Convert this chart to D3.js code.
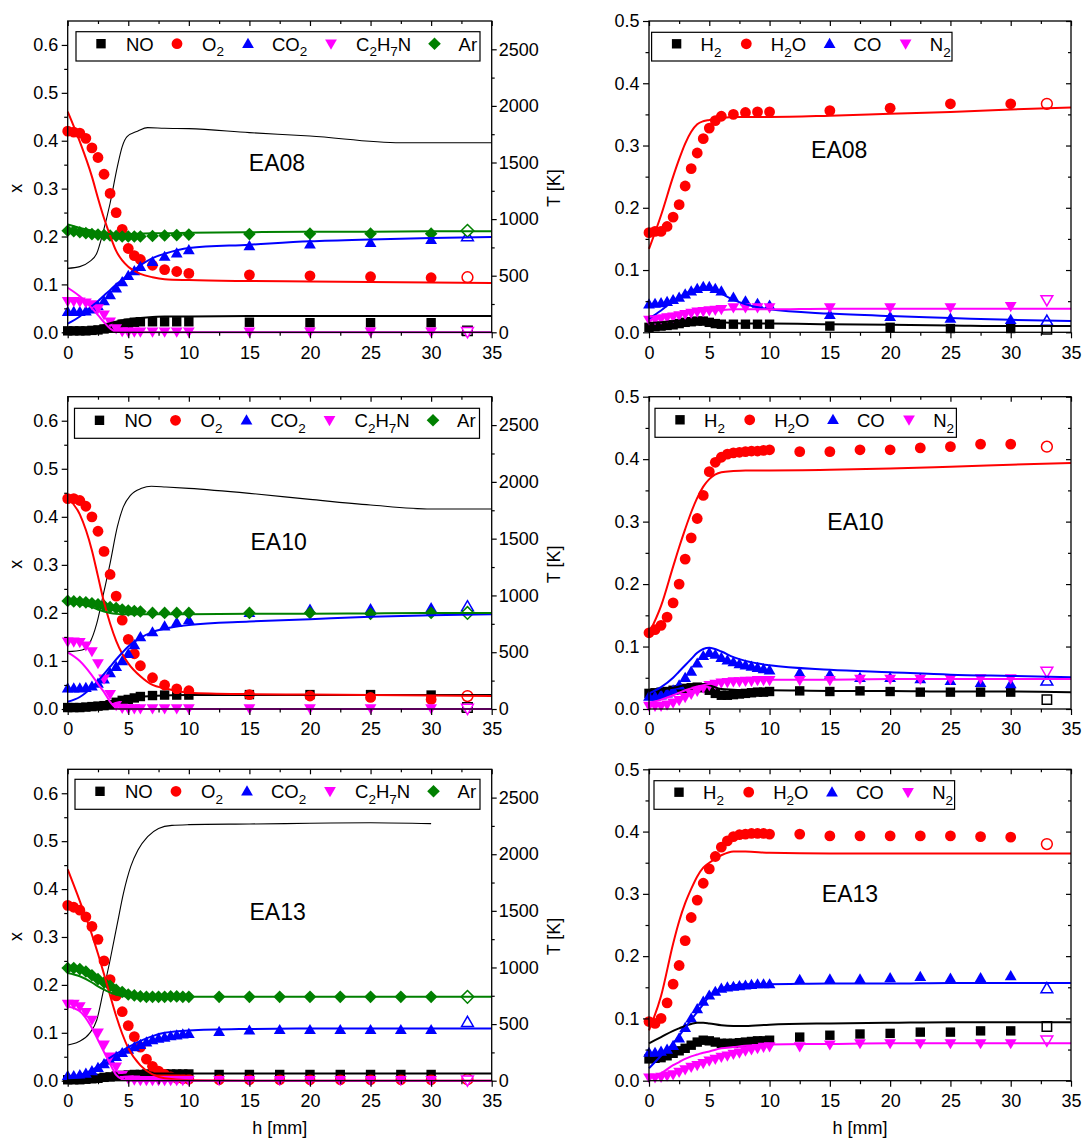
<!DOCTYPE html>
<html><head><meta charset="utf-8">
<script src="https://cdn.jsdelivr.net/npm/d3@7"></script>
<style>body{margin:0;background:#fff}</style>
</head><body><svg id="c" width="1083" height="1138"></svg>
<script>
// ---------------- DATA ----------------
const X_MAJOR = [0,5,10,15,20,25,30,35];
const X_MINOR = [2.5,7.5,12.5,17.5,22.5,27.5,32.5];
const YL_MAJOR = [0,0.1,0.2,0.3,0.4,0.5,0.6];
const YL_MINOR = [0.05,0.15,0.25,0.35,0.45,0.55];
const YR_MAJOR = [0,0.1,0.2,0.3,0.4,0.5];
const YR_MINOR = [0.05,0.15,0.25,0.35,0.45];
const T_MAJOR = [0,500,1000,1500,2000,2500];
const T_MINOR = [250,750,1250,1750,2250];

const G1 = [0,0.5,1,1.5,2,2.5,3,3.5,4,4.5,5,5.5,6,7,8,9,10,15,20,25,30];
const G2 = [0,0.5,1,1.5,2,2.5,3,3.5,4,4.5,5,5.5,6,6.5,7,7.5,8,8.5,9,9.5,10,12.5,15,17.5,20,22.5,25,27.5,30];
const HM = [0,1,2,2.5,3,3.5,4,4.5,5,6,7,8,10,15,20,25,30,35];
const H_OPEN = 33;

// EA08 left
const EA08_NO = [0.003,0.003,0.003,0.003,0.004,0.005,0.007,0.01,0.014,0.017,0.019,0.021,0.022,0.022,0.022,0.022,0.022,0.021,0.02,0.02,0.02];
const EA08_O2 = [0.42,0.418,0.416,0.405,0.385,0.365,0.33,0.29,0.25,0.215,0.175,0.16,0.152,0.14,0.131,0.127,0.123,0.12,0.118,0.116,0.114];
const EA08_CO2 = [0.043,0.043,0.043,0.044,0.048,0.055,0.065,0.078,0.092,0.105,0.118,0.128,0.137,0.147,0.158,0.165,0.172,0.18,0.184,0.187,0.193];
const EA08_C2H7N = [0.065,0.065,0.064,0.062,0.058,0.05,0.037,0.022,0.008,0.002,0.001,0.001,0.001,0.001,0.001,0.001,0.001,0.001,0.001,0.001,0.001];
const EA08_Ar = [0.212,0.211,0.209,0.207,0.205,0.204,0.203,0.202,0.201,0.2,0.2,0.2,0.2,0.201,0.202,0.203,0.204,0.205,0.206,0.206,0.206];
const EA08_OPEN_L = [0.003,0.115,0.2,0.001,0.212];
const EA08_NO_m = [0.006,0.007,0.009,0.011,0.015,0.019,0.022,0.025,0.027,0.03,0.032,0.033,0.033,0.034,0.034,0.034,0.034,0.034];
const EA08_O2_m = [0.461,0.398,0.325,0.28,0.238,0.202,0.17,0.15,0.137,0.122,0.115,0.111,0.109,0.107,0.106,0.105,0.104,0.103];
const EA08_CO2_m = [0.018,0.033,0.055,0.065,0.077,0.088,0.1,0.11,0.12,0.14,0.155,0.164,0.176,0.183,0.19,0.194,0.197,0.199];
const EA08_C2H7N_m = [0.093,0.075,0.05,0.036,0.021,0.008,0.001,0,0,0,0,0,0,0,0,0,0,0];
const EA08_Ar_m = [0.225,0.218,0.212,0.209,0.206,0.205,0.205,0.205,0.205,0.206,0.207,0.207,0.208,0.209,0.21,0.21,0.211,0.211];
const EA08_hT = [0,1,1.8,2.4,2.9,3.5,4.1,4.5,4.9,5.8,6.6,8,10,15,20,27.5,35];
const EA08_T = [565,580,624,698,875,1140,1463,1640,1728,1779,1808,1802,1799,1764,1734,1675,1675];
// EA08 right
const EA08_H2 = [0.008,0.009,0.01,0.011,0.012,0.014,0.016,0.017,0.018,0.018,0.016,0.014,0.013,0.013,0.013,0.013,0.013,0.01,0.008,0.006,0.006];
const EA08_H2O = [0.16,0.162,0.162,0.17,0.185,0.205,0.235,0.263,0.288,0.311,0.328,0.34,0.347,0.35,0.353,0.354,0.354,0.356,0.36,0.367,0.367];
const EA08_CO = [0.045,0.046,0.047,0.049,0.052,0.056,0.061,0.066,0.07,0.073,0.073,0.07,0.066,0.056,0.05,0.046,0.043,0.028,0.025,0.022,0.02];
const EA08_N2 = [0.02,0.021,0.022,0.024,0.025,0.027,0.029,0.031,0.033,0.034,0.035,0.036,0.037,0.04,0.04,0.04,0.04,0.04,0.04,0.04,0.042];
const EA08_OPEN_R = [0.005,0.367,0.018,0.052];
const EA08_H2_m = [0.015,0.016,0.018,0.019,0.019,0.02,0.02,0.019,0.018,0.016,0.015,0.014,0.014,0.013,0.012,0.011,0.01,0.01];
const EA08_H2O_m = [0.134,0.188,0.25,0.278,0.303,0.322,0.334,0.339,0.341,0.344,0.346,0.346,0.346,0.348,0.351,0.354,0.358,0.361];
const EA08_CO_m = [0.022,0.035,0.05,0.056,0.062,0.067,0.07,0.072,0.07,0.062,0.052,0.045,0.037,0.03,0.026,0.023,0.02,0.018];
const EA08_N2_m = [0.025,0.027,0.03,0.031,0.032,0.033,0.034,0.035,0.035,0.036,0.037,0.037,0.037,0.038,0.038,0.038,0.038,0.038];

// EA10 left
const EA10_NO = [0.003,0.003,0.003,0.004,0.005,0.006,0.007,0.009,0.014,0.018,0.02,0.023,0.026,0.028,0.029,0.029,0.029,0.03,0.03,0.03,0.029];
const EA10_O2 = [0.438,0.438,0.434,0.422,0.4,0.37,0.328,0.28,0.235,0.185,0.145,0.115,0.09,0.065,0.05,0.042,0.038,0.03,0.027,0.024,0.02];
const EA10_CO2 = [0.043,0.043,0.043,0.044,0.047,0.053,0.062,0.075,0.088,0.1,0.115,0.133,0.15,0.16,0.172,0.18,0.185,0.2,0.207,0.208,0.21];
const EA10_C2H7N = [0.14,0.14,0.139,0.132,0.12,0.095,0.063,0.031,0.008,0.002,0.001,0.001,0.001,0.001,0.001,0.001,0.001,0.001,0.001,0.001,0.001];
const EA10_Ar = [0.225,0.224,0.223,0.222,0.22,0.218,0.215,0.212,0.21,0.207,0.205,0.204,0.203,0.2,0.2,0.2,0.2,0.2,0.2,0.198,0.2];
const EA10_OPEN_L = [0.003,0.027,0.213,0.001,0.2];
const EA10_NO_m = [0.003,0.004,0.005,0.007,0.01,0.013,0.017,0.02,0.022,0.026,0.027,0.028,0.029,0.029,0.029,0.029,0.029,0.029];
const EA10_O2_m = [0.44,0.405,0.33,0.276,0.222,0.178,0.142,0.115,0.095,0.068,0.05,0.043,0.034,0.031,0.03,0.029,0.028,0.027];
const EA10_CO2_m = [0.015,0.025,0.045,0.058,0.073,0.088,0.103,0.117,0.13,0.148,0.16,0.167,0.175,0.182,0.187,0.192,0.195,0.197];
const EA10_C2H7N_m = [0.118,0.1,0.07,0.052,0.035,0.015,0.003,0,0,0,0,0,0,0,0,0,0,0];
const EA10_Ar_m = [0.22,0.218,0.212,0.207,0.203,0.2,0.198,0.197,0.197,0.197,0.197,0.197,0.197,0.198,0.198,0.199,0.2,0.2];
const EA10_hT = [0,1.2,1.8,2.4,2.9,3.5,4.1,4.6,5.2,6.1,6.9,8.1,10,15,20,25,30,35];
const EA10_T = [505,520,578,754,989,1283,1606,1782,1884,1943,1961,1955,1943,1899,1846,1796,1761,1761];
// EA10 right
const EA10_H2 = [0.025,0.026,0.027,0.028,0.03,0.031,0.033,0.034,0.035,0.034,0.03,0.025,0.022,0.022,0.023,0.024,0.025,0.026,0.027,0.027,0.028,0.029,0.028,0.029,0.028,0.027,0.027,0.027,0.027];
const EA10_H2O = [0.122,0.127,0.134,0.147,0.17,0.2,0.24,0.274,0.305,0.342,0.38,0.395,0.403,0.408,0.41,0.411,0.412,0.413,0.413,0.414,0.415,0.412,0.412,0.415,0.415,0.418,0.42,0.424,0.424];
const EA10_CO = [0.02,0.02,0.022,0.025,0.03,0.038,0.05,0.06,0.073,0.085,0.09,0.087,0.082,0.078,0.075,0.072,0.07,0.068,0.066,0.064,0.062,0.058,0.055,0.05,0.05,0.048,0.045,0.042,0.04];
const EA10_N2 = [0.005,0.005,0.005,0.007,0.01,0.014,0.019,0.024,0.029,0.034,0.038,0.04,0.042,0.043,0.044,0.044,0.045,0.045,0.046,0.046,0.046,0.046,0.046,0.048,0.048,0.048,0.048,0.049,0.049];
const EA10_OPEN_R = [0.015,0.42,0.045,0.06];
const EA10_H2_m = [0.028,0.031,0.034,0.036,0.038,0.039,0.04,0.04,0.038,0.032,0.031,0.03,0.03,0.029,0.029,0.028,0.028,0.027];
const EA10_H2O_m = [0.121,0.165,0.228,0.259,0.288,0.315,0.338,0.356,0.368,0.379,0.381,0.382,0.382,0.383,0.385,0.388,0.391,0.394];
const EA10_CO_m = [0.025,0.035,0.05,0.06,0.07,0.08,0.09,0.096,0.098,0.092,0.083,0.077,0.07,0.063,0.059,0.055,0.053,0.051];
const EA10_N2_m = [0.01,0.015,0.022,0.026,0.03,0.033,0.036,0.038,0.04,0.044,0.045,0.046,0.047,0.047,0.048,0.048,0.048,0.048];

// EA13 left
const EA13_NO = [0.002,0.002,0.002,0.003,0.004,0.005,0.007,0.008,0.01,0.011,0.012,0.013,0.013,0.014,0.014,0.014,0.014,0.014,0.014,0.014,0.014,0.013,0.013,0.013,0.013,0.013,0.013,0.013,0.013];
const EA13_O2 = [0.366,0.362,0.356,0.342,0.322,0.295,0.25,0.211,0.177,0.144,0.115,0.092,0.07,0.045,0.03,0.02,0.013,0.008,0.005,0.004,0.003,0.002,0.002,0.002,0.002,0.002,0.002,0.002,0.002];
const EA13_CO2 = [0.01,0.01,0.012,0.015,0.02,0.027,0.035,0.042,0.05,0.058,0.065,0.07,0.075,0.08,0.085,0.088,0.09,0.093,0.095,0.097,0.098,0.102,0.105,0.106,0.106,0.106,0.106,0.106,0.106];
const EA13_C2H7N = [0.16,0.16,0.155,0.143,0.127,0.1,0.075,0.05,0.029,0.012,0.004,0.002,0.001,0.001,0.001,0.001,0.001,0.001,0.001,0.001,0.001,0.001,0.001,0.001,0.001,0.001,0.001,0.001,0.001];
const EA13_Ar = [0.235,0.235,0.233,0.228,0.22,0.212,0.205,0.198,0.19,0.185,0.18,0.178,0.176,0.175,0.175,0.175,0.175,0.176,0.176,0.175,0.175,0.175,0.175,0.175,0.175,0.175,0.175,0.175,0.175];
const EA13_OPEN_L = [null,0.003,0.122,0.001,0.175];
const EA13_NO_m = [0.001,0.002,0.003,0.005,0.007,0.009,0.011,0.012,0.013,0.0145,0.015,0.015,0.015,0.015,0.015,0.015,0.015,0.015];
const EA13_O2_m = [0.441,0.375,0.305,0.265,0.222,0.178,0.135,0.098,0.068,0.032,0.013,0.005,0.001,0,0,0,0,0];
const EA13_CO2_m = [0.008,0.012,0.022,0.03,0.04,0.048,0.056,0.063,0.07,0.083,0.093,0.1,0.105,0.108,0.109,0.109,0.109,0.109];
const EA13_C2H7N_m = [0.155,0.145,0.11,0.085,0.06,0.035,0.012,0.003,0.001,0,0,0,0,0,0,0,0,0];
const EA13_Ar_m = [0.225,0.218,0.205,0.197,0.19,0.184,0.18,0.177,0.176,0.175,0.175,0.175,0.175,0.175,0.175,0.175,0.175,0.175];
const EA13_hT = [0,0.9,1.8,2.4,2.9,3.5,4.1,4.6,5.2,5.8,6.6,7.5,8.6,10,15,20,25,30];
const EA13_T = [315,344,418,536,771,1066,1389,1654,1890,2037,2155,2228,2255,2261,2267,2273,2278,2270];
// EA13 right
const EA13_H2 = [0.035,0.036,0.037,0.04,0.044,0.048,0.052,0.057,0.062,0.065,0.064,0.062,0.06,0.06,0.06,0.061,0.062,0.063,0.064,0.064,0.065,0.07,0.073,0.075,0.076,0.078,0.078,0.08,0.08];
const EA13_H2O = [0.095,0.092,0.1,0.125,0.155,0.185,0.225,0.262,0.29,0.317,0.34,0.36,0.375,0.385,0.392,0.395,0.396,0.397,0.397,0.397,0.396,0.396,0.393,0.393,0.393,0.393,0.393,0.392,0.391];
const EA13_CO = [0.045,0.045,0.047,0.05,0.056,0.068,0.085,0.1,0.115,0.127,0.137,0.143,0.148,0.15,0.151,0.152,0.153,0.154,0.155,0.155,0.155,0.162,0.163,0.163,0.165,0.167,0.164,0.165,0.168];
const EA13_N2 = [0.005,0.005,0.006,0.008,0.01,0.014,0.018,0.022,0.025,0.028,0.032,0.035,0.038,0.04,0.043,0.045,0.048,0.05,0.052,0.054,0.055,0.055,0.058,0.06,0.06,0.06,0.06,0.06,0.06];
const EA13_OPEN_R = [0.087,0.38,0.148,0.065];
const EA13_H2_m = [0.06,0.07,0.08,0.084,0.088,0.091,0.093,0.093,0.092,0.089,0.088,0.088,0.09,0.092,0.093,0.094,0.094,0.094];
const EA13_H2O_m = [0.081,0.136,0.22,0.256,0.285,0.308,0.328,0.342,0.35,0.362,0.368,0.368,0.366,0.365,0.365,0.365,0.365,0.365];
const EA13_CO_m = [0.02,0.04,0.06,0.072,0.085,0.098,0.11,0.123,0.135,0.148,0.153,0.155,0.155,0.156,0.156,0.157,0.157,0.157];
const EA13_N2_m = [0.006,0.012,0.025,0.03,0.035,0.039,0.042,0.045,0.047,0.052,0.054,0.056,0.058,0.059,0.06,0.06,0.06,0.06];

// ---------------- STYLE / LAYOUT ----------------
const FONT = '"Liberation Sans", Arial, Helvetica, sans-serif';
const TICK_FS = 18;
const COLS = [[67.7, 491.7],[649, 1071]];
const ROWS = [[21, 332.3],[396.7, 709],[769.3, 1080.7]];
const LEFT_SPECIES = [
  {parts:[["NO",0]], color:"#000000", shape:"square"},
  {parts:[["O",0],["2",1]], color:"#ff0000", shape:"circle"},
  {parts:[["CO",0],["2",1]], color:"#0000ff", shape:"up"},
  {parts:[["C",0],["2",1],["H",0],["7",1],["N",0]], color:"#ff00ff", shape:"down"},
  {parts:[["Ar",0]], color:"#008000", shape:"diamond"}
];
const RIGHT_SPECIES = [
  {parts:[["H",0],["2",1]], color:"#000000", shape:"square"},
  {parts:[["H",0],["2",1],["O",0]], color:"#ff0000", shape:"circle"},
  {parts:[["CO",0]], color:"#0000ff", shape:"up"},
  {parts:[["N",0],["2",1]], color:"#ff00ff", shape:"down"}
];
const LEG_L = {sym:[25,101,172,255,358.5], txt:[50,126,196,280,382.6], symDy:12, txtDy:19};
const LEG_R = {sym:[25,94.7,178,254], txt:[49,119.2,202,278.2], symDy:11.5, txtDy:18.7};

const panels = [
  {row:0,col:0,title:"EA08",tpos:[277,163.3],hE:G1,exp:[EA08_NO,EA08_O2,EA08_CO2,EA08_C2H7N,EA08_Ar],mod:[EA08_NO_m,EA08_O2_m,EA08_CO2_m,EA08_C2H7N_m,EA08_Ar_m],open:EA08_OPEN_L,hT:EA08_hT,T:EA08_T,leg:{x:76,y:31.7,w:404,h:29.3}},
  {row:0,col:1,title:"EA08",tpos:[839.2,150],hE:G1,exp:[EA08_H2,EA08_H2O,EA08_CO,EA08_N2],mod:[EA08_H2_m,EA08_H2O_m,EA08_CO_m,EA08_N2_m],open:EA08_OPEN_R,leg:{x:651.6,y:32.3,w:300.4,h:28.7}},
  {row:1,col:0,title:"EA10",tpos:[278.6,541.7],hE:G1,exp:[EA10_NO,EA10_O2,EA10_CO2,EA10_C2H7N,EA10_Ar],mod:[EA10_NO_m,EA10_O2_m,EA10_CO2_m,EA10_C2H7N_m,EA10_Ar_m],open:EA10_OPEN_L,hT:EA10_hT,T:EA10_T,leg:{x:74.5,y:408.3,w:405,h:30}},
  {row:1,col:1,title:"EA10",tpos:[855.5,521.7],hE:G2,exp:[EA10_H2,EA10_H2O,EA10_CO,EA10_N2],mod:[EA10_H2_m,EA10_H2O_m,EA10_CO_m,EA10_N2_m],open:EA10_OPEN_R,leg:{x:655,y:408.3,w:301.4,h:29}},
  {row:2,col:0,title:"EA13",tpos:[277.6,912.3],hE:G2,exp:[EA13_NO,EA13_O2,EA13_CO2,EA13_C2H7N,EA13_Ar],mod:[EA13_NO_m,EA13_O2_m,EA13_CO2_m,EA13_C2H7N_m,EA13_Ar_m],open:EA13_OPEN_L,hT:EA13_hT,T:EA13_T,leg:{x:75,y:779.3,w:405,h:30}},
  {row:2,col:1,title:"EA13",tpos:[850,894],hE:G2,exp:[EA13_H2,EA13_H2O,EA13_CO,EA13_N2],mod:[EA13_H2_m,EA13_H2O_m,EA13_CO_m,EA13_N2_m],open:EA13_OPEN_R,leg:{x:654,y:780.7,w:300.6,h:28.6}}
];

// ---------------- DRAW ----------------
const svg = d3.select("#c");

function markerPath(shape, cx, cy) {
  switch (shape) {
    case "square": { const s = 4.7; return `M${cx-s},${cy-s}h${2*s}v${2*s}h${-2*s}Z`; }
    case "up": return `M${cx},${cy-6}L${cx+5.9},${cy+4.2}L${cx-5.9},${cy+4.2}Z`;
    case "down": return `M${cx},${cy+6}L${cx+5.9},${cy-4.2}L${cx-5.9},${cy-4.2}Z`;
    case "diamond": return `M${cx},${cy-6.3}L${cx+6.3},${cy}L${cx},${cy+6.3}L${cx-6.3},${cy}Z`;
    case "circle": { const r = 5.4; return `M${cx-r},${cy}a${r},${r} 0 1,0 ${2*r},0a${r},${r} 0 1,0 ${-2*r},0Z`; }
  }
}

function styleAxis(sel) {
  sel.attr("font-family", FONT).attr("font-size", TICK_FS);
  sel.select(".domain").remove();
  sel.selectAll(".tick line").attr("stroke", "#000").attr("stroke-width", 1.2);
  sel.selectAll(".tick text").attr("fill", "#000");
}

function drawLabel(g, parts, x, y, fs, sfs) {
  const t = g.append("text").attr("x", x).attr("y", y).attr("font-family", FONT).attr("font-size", fs).attr("fill", "#000");
  let off = 0;
  parts.forEach(([s, sub]) => {
    const target = sub ? 5.5 : 0;
    t.append("tspan").attr("dy", target - off).attr("font-size", sub ? sfs : fs).text(s);
    off = target;
  });
}

panels.forEach(p => {
  const [x0, x1] = COLS[p.col];
  const [yt, yb] = ROWS[p.row];
  const left = p.col === 0;
  const species = left ? LEFT_SPECIES : RIGHT_SPECIES;
  const x = d3.scaleLinear().domain([0, 35]).range([x0, x1]);
  const y = d3.scaleLinear().domain([0, left ? 0.65 : 0.5]).range([yb, yt]);
  const g = svg.append("g");

  // temperature
  if (p.T) {
    const t = d3.scaleLinear().domain([0, 2750]).range([yb, yt]);
    const tl = d3.line().x((d, i) => x(p.hT[i])).y(d => t(d)).curve(d3.curveMonotoneX);
    g.append("path").attr("d", tl(p.T)).attr("fill", "none").attr("stroke", "#000").attr("stroke-width", 1.1);
    const ra = g.append("g").attr("transform", `translate(${x1},0)`)
      .call(d3.axisRight(t).tickValues(T_MAJOR).tickSize(5).tickPadding(2).tickFormat(d3.format("d")));
    styleAxis(ra);
    const ram = g.append("g").attr("transform", `translate(${x1},0)`)
      .call(d3.axisRight(t).tickValues(T_MINOR).tickSize(3).tickFormat(""));
    styleAxis(ram);
  } else {
    const ra = g.append("g").attr("transform", `translate(${x1},0)`)
      .call(d3.axisRight(y).tickValues(YR_MAJOR).tickSize(-5).tickFormat(""));
    styleAxis(ra);
    const ram = g.append("g").attr("transform", `translate(${x1},0)`)
      .call(d3.axisRight(y).tickValues(YR_MINOR).tickSize(-3).tickFormat(""));
    styleAxis(ram);
  }

  // markers
  species.forEach((s, k) => {
    const vals = p.exp[k];
    g.append("g").selectAll("path").data(vals).join("path")
      .attr("d", (v, i) => markerPath(s.shape, x(p.hE[i]), y(v)))
      .attr("fill", s.color).attr("stroke", "none");
    if (p.open[k] != null) {
      g.append("path").attr("d", markerPath(s.shape, x(H_OPEN), y(p.open[k])))
        .attr("fill", "#fff").attr("stroke", s.color).attr("stroke-width", 1.5);
    }
  });
  // model lines
  species.forEach((s, k) => {
    const ln = d3.line().x((d, i) => x(HM[i])).y(d => y(d)).curve(d3.curveMonotoneX);
    g.append("path").attr("d", ln(p.mod[k])).attr("fill", "none").attr("stroke", s.color).attr("stroke-width", 2);
  });

  // axes
  const xa = g.append("g").attr("transform", `translate(0,${yb})`)
    .call(d3.axisBottom(x).tickValues(X_MAJOR).tickSize(6).tickPadding(7.5).tickFormat(d3.format("d")));
  styleAxis(xa);
  const xam = g.append("g").attr("transform", `translate(0,${yb})`)
    .call(d3.axisBottom(x).tickValues(X_MINOR).tickSize(3.5).tickFormat(""));
  styleAxis(xam);
  const xt = g.append("g").attr("transform", `translate(0,${yt})`)
    .call(d3.axisTop(x).tickValues(X_MAJOR).tickSize(-5).tickFormat(""));
  styleAxis(xt);
  const xtm = g.append("g").attr("transform", `translate(0,${yt})`)
    .call(d3.axisTop(x).tickValues(X_MINOR).tickSize(-3).tickFormat(""));
  styleAxis(xtm);
  const ya = g.append("g").attr("transform", `translate(${x0},0)`)
    .call(d3.axisLeft(y).tickValues(left ? YL_MAJOR : YR_MAJOR).tickSize(6).tickPadding(3.5).tickFormat(d3.format(".1f")));
  styleAxis(ya);
  const yam = g.append("g").attr("transform", `translate(${x0},0)`)
    .call(d3.axisLeft(y).tickValues(left ? YL_MINOR : YR_MINOR).tickSize(3.5).tickFormat(""));
  styleAxis(yam);

  // frame
  g.append("rect").attr("x", x0).attr("y", yt).attr("width", x1 - x0).attr("height", yb - yt)
    .attr("fill", "none").attr("stroke", "#000").attr("stroke-width", 1.3);

  // legend
  const L = p.leg, LO = left ? LEG_L : LEG_R;
  g.append("rect").attr("x", L.x).attr("y", L.y).attr("width", L.w).attr("height", L.h)
    .attr("fill", "#fff").attr("stroke", "#000").attr("stroke-width", 1.2);
  species.forEach((s, k) => {
    g.append("path").attr("d", markerPath(s.shape, L.x + LO.sym[k], L.y + LO.symDy)).attr("fill", s.color);
    drawLabel(g, s.parts, L.x + LO.txt[k], L.y + LO.txtDy, 18.5, 13.5);
  });

  // title
  g.append("text").attr("x", p.tpos[0]).attr("y", p.tpos[1]).attr("text-anchor", "middle")
    .attr("dominant-baseline", "central").attr("font-family", FONT).attr("font-size", 23).text(p.title);

  // axis titles
  const cy = (yt + yb) / 2 + 11.5;
  if (left) {
    g.append("text").attr("transform", `translate(15.5,${cy}) rotate(-90)`).attr("text-anchor", "middle")
      .attr("dominant-baseline", "central").attr("font-family", FONT).attr("font-size", 18).text("x");
    g.append("text").attr("transform", `translate(553.8,${cy}) rotate(-90)`).attr("text-anchor", "middle")
      .attr("dominant-baseline", "central").attr("font-family", FONT).attr("font-size", 18).text("T [K]");
  }
  if (p.row === 2) {
    g.append("text").attr("x", (x0 + x1) / 2).attr("y", 1128.3).attr("text-anchor", "middle")
      .attr("dominant-baseline", "central").attr("font-family", FONT).attr("font-size", 18).text("h [mm]");
  }
});
</script></body></html>
